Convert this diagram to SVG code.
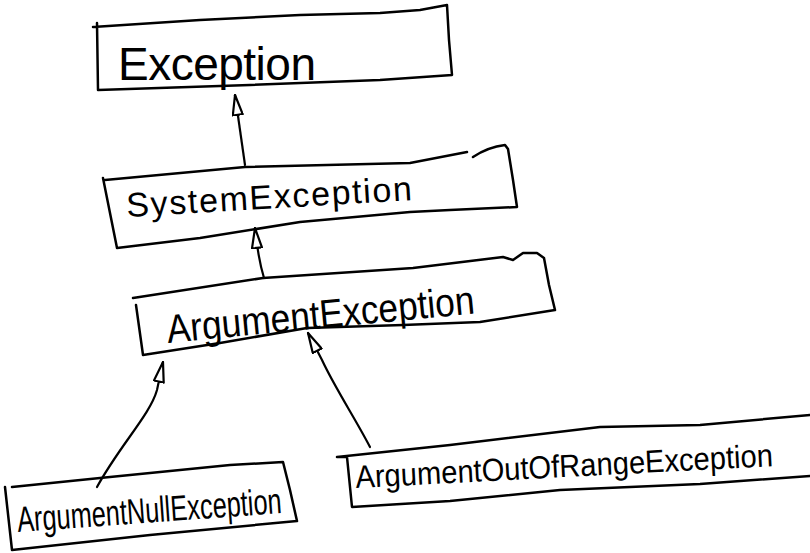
<svg xmlns="http://www.w3.org/2000/svg" width="810" height="553" viewBox="0 0 810 553">
<style>
.box{fill:none;stroke:#000;stroke-width:2.5;stroke-linejoin:round;stroke-linecap:round}
.con{fill:none;stroke:#000;stroke-width:2.2;stroke-linecap:round;marker-end:url(#tri)}
.lbl{font-family:"Liberation Sans","DejaVu Sans",sans-serif;fill:#000}
</style>
<defs>
<marker id="tri" viewBox="0 0 22 12" refX="21" refY="6" markerWidth="22" markerHeight="12" markerUnits="userSpaceOnUse" orient="auto">
<path d="M1,1 L21,6 L1,11 Z" fill="#fff" stroke="#000" stroke-width="2.2" stroke-linejoin="round"/>
</marker>
</defs>
<rect width="810" height="553" fill="#fff"/>
<g id="connectors">
<path class="con" d="M245,165 Q241,138 235,95"/>
<path class="con" d="M264,278 Q258,258 255,228"/>
<path class="con" d="M97,487 C120,445 150,415 157,390 L163,362"/>
<path class="con" d="M370,447 C355,418 335,388 322,360 L308,333"/>
</g>
<g id="exception">
<path class="box" d="M93,27 L200,20 L300,15 L380,13 L420,10 L447,5 L449,40 L452,75 L380,80 L250,85 L98,90 L97,23"/>
<text class="lbl" x="118" y="80" font-size="46" textLength="198" lengthAdjust="spacing">Exception</text>
</g>
<g id="system-exception">
<path class="box" d="M105,180 L245,167 L410,163 L467,152"/>
<path class="box" d="M473,157 Q488,147 505,145 L508,149 L513,180 L517,207 L450,210 L410,212 L300,222 L200,238 L117,248 L103,178"/>
<text class="lbl" x="127" y="217" font-size="34" textLength="286" lengthAdjust="spacing" transform="rotate(-3.4 127 217)">SystemException</text>
</g>
<g id="argument-exception">
<path class="box" d="M133,298 L263,278 L413,268 L503,257 L513,260 L523,253 L537,253 L544,258 L549,285 L555,310 L480,322 L403,325 L307,328 L220,343 L143,355 L136,305"/>
<text class="lbl" x="168" y="343" font-size="40" textLength="309" lengthAdjust="spacingAndGlyphs" transform="rotate(-5.5 168 343)">ArgumentException</text>
</g>
<g id="argument-null-exception">
<path class="box" d="M12,487 L100,478 L230,465 L283,462 L290,490 L297,521 L150,535 L12,550 L5,487"/>
<text class="lbl" x="18" y="532" font-size="36" textLength="265" lengthAdjust="spacingAndGlyphs" transform="rotate(-4.1 18 532)">ArgumentNullException</text>
</g>
<g id="argument-out-of-range-exception">
<path class="box" d="M810,415 L700,425 L600,427 L450,445 L337,457 L347,457 L352,507 L450,501 L560,490 L700,484 L810,476"/>
<text class="lbl" x="356" y="488" font-size="32" textLength="418" lengthAdjust="spacingAndGlyphs" transform="rotate(-3 356 488)">ArgumentOutOfRangeException</text>
</g>
</svg>
